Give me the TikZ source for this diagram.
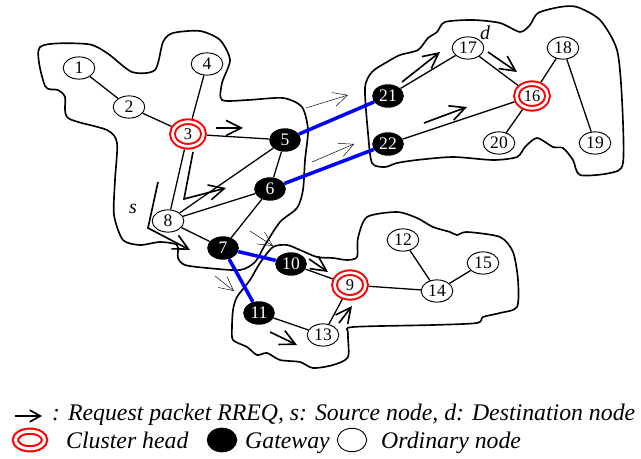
\documentclass[tikz,border=0pt]{standalone}
\usepackage{fontspec}
\setmainfont{Liberation Serif}
\usetikzlibrary{shapes.geometric,arrows.meta}
\tikzstyle{ordinary} = [ellipse, draw=black, line width=0.8pt, fill=white, minimum width=27pt, minimum height=19pt, inner sep=0pt, font=\fontsize{15}{15}\selectfont]
\tikzstyle{gateway} = [ellipse, fill=black, text=white, minimum width=27pt, minimum height=20pt, inner sep=0pt, font=\fontsize{15}{15}\selectfont]
\tikzstyle{head} = [ellipse, draw=red, line width=1.7pt, double=white, double distance=2.3pt, fill=white, minimum width=26.5pt, minimum height=21pt, inner sep=0pt, outer sep=2.85pt, font=\fontsize{14}{14}\selectfont]
\tikzstyle{link} = [line width=1.1pt]
\tikzstyle{bridge} = [blue, line width=3pt]
\tikzstyle{rreq} = [line width=1.4pt, line join=miter, -{Straight Barb[length=13pt,width=13pt,line width=1.4pt]}]
\tikzstyle{hint} = [line width=0.4pt, -{Straight Barb[length=12pt,width=12pt,line width=0.4pt]}]
\tikzstyle{cluster} = [line width=1.4pt, line join=round]
\tikzstyle{legend} = [anchor=base west, inner sep=0pt, font=\fontsize{20.3}{20.3}\selectfont\itshape]

\begin{document}
\begin{tikzpicture}[x=0.03cm, y=-0.03cm]
 \useasboundingbox (0,0) rectangle (641,459);

 % clusters
 \draw[cluster] plot[smooth cycle, tension=0.45] coordinates {(40,47) (87,44) (107,53) (132,72) (155,70) (163,42) (173,33) (200,31) (220,40) (230,60) (222,83) (222,100) (248,100) (283,98) (302,107) (308,130) (305,160) (303,190) (297,208) (280,222) (265,245) (255,262) (240,270) (207,268) (185,265) (178,258) (177,245) (160,242) (140,245) (123,240) (114,215) (115,180) (117,143) (107,130) (68,118) (65,97) (58,90) (45,86)};
 \draw[cluster] plot[smooth cycle, tension=0.45] coordinates {(365,88) (372,72) (387,62) (400,55) (418,50) (428,38) (437,32) (445,22) (473,20) (500,23) (520,32) (530,25) (538,13) (560,7) (577,7) (600,20) (617,50) (622,100) (623,163) (610,173) (580,175) (573,160) (563,148) (553,147) (537,138) (525,147) (517,157) (493,160) (453,157) (417,160) (397,163) (385,167) (372,163) (368,133)};
 \draw[cluster] plot[smooth cycle, tension=0.45] coordinates {(273,247) (287,245) (300,250) (317,257) (333,258) (347,260) (357,257) (358,238) (367,217) (397,212) (417,218) (433,227) (450,232) (457,235) (467,232) (500,237) (513,252) (518,280) (517,307) (500,313) (483,317) (477,323) (433,325) (353,327) (348,333) (348,357) (333,365) (313,368) (300,362) (280,360) (267,353) (257,355) (247,347) (233,340) (232,327) (233,310) (237,297) (250,280) (260,263)};

 % nodes
 \node (n1) [ordinary] at (79,68) {1};
 \node (n2) [ordinary] at (129,107) {2};
 \node (n3) [head] at (188,134) {3};
 \node (n4) [ordinary] at (207,64) {4};
 \node (n5) [gateway] at (285,140) {5};
 \node (n6) [gateway] at (270,189) {6};
 \node (n7) [gateway] at (223,248) {7};
 \node (n8) [ordinary] at (168,221) {8};
 \node (n9) [head] at (350,285) {9};
 \node (n10) [gateway] at (291,264) {10};
 \node (n11) [gateway] at (259,313) {11};
 \node (n12) [ordinary] at (403,240) {12};
 \node (n13) [ordinary] at (323,335) {13};
 \node (n14) [ordinary] at (437,291) {14};
 \node (n15) [ordinary] at (483,263) {15};
 \node (n16) [head] at (532,96) {16};
 \node (n17) [ordinary] at (468,48) {17};
 \node (n18) [ordinary] at (563,48) {18};
 \node (n19) [ordinary] at (595,143) {19};
 \node (n20) [ordinary] at (499,143) {20};
 \node (n21) [gateway] at (388,96) {21};
 \node (n22) [gateway] at (388,144) {22};
 \node (src) at (133,209) {\fontsize{17}{17}\selectfont\itshape s};
 \node (dst) at (485,33) {\fontsize{17}{17}\selectfont\itshape d};

 % links
 \draw[link] (n1) -- (n2);
 \draw[link] (n2) -- (n3);
 \draw[link] (n4) -- (n3);
 \draw[link] (n3) -- (n5);
 \draw[link] (n3) -- (n8);
 \draw[link] (n8) -- (n5);
 \draw[link] (n8) -- (n6);
 \draw[link] (n8) -- (n7);
 \draw[link] (n5) -- (n6);
 \draw[link] (n6) -- (n7);
 \draw[link] (n10) -- (n9);
 \draw[link] (n11) -- (n13);
 \draw[link] (n13) -- (n9);
 \draw[link] (n9) -- (n14);
 \draw[link] (n12) -- (n14);
 \draw[link] (n14) -- (n15);
 \draw[link] (n21) -- (n17);
 \draw[link] (n17) -- (n16);
 \draw[link] (n18) -- (n16);
 \draw[link] (n18) -- (n19);
 \draw[link] (n22) -- (n16);
 \draw[link] (n16) -- (n20);
 \draw[bridge] (n5) -- (n21);
 \draw[bridge] (n6) -- (n22);
 \draw[bridge] (n7) -- (n10);
 \draw[bridge] (n7) -- (n11);

 % RREQ
 \draw[rreq] (216,128) -- (243,128);
 \draw[rreq] (193,152) -- (184,199) -- (226,188);
 \draw[rreq] (158,182) -- (148,228) -- (190,250);
 \draw[rreq] (402,82) -- (440,52);
 \draw[rreq] (424,123) -- (467,107);
 \draw[rreq] (488,52) -- (517,72);
 \draw[rreq] (309,259) -- (328,272);
 \draw[rreq] (270,332) -- (297,345);
 \draw[rreq] (339,323) -- (352,306);
 \draw[hint] (306,108) -- (348,95);
 \draw[hint] (312,162) -- (354,144);
 \draw[hint] (250,231) -- (273,246);
 \draw[hint] (215,276) -- (234,291);

 % legend
 \draw[line width=1.4pt, -{Straight Barb[length=9pt,width=10pt,line width=1.4pt]}] (15,416) -- (42,416);
 \node (l1) [legend] at (52,420) {: Request packet RREQ, s: Source node, d: Destination node};
 \node (k1) [ellipse, draw=red, line width=1.8pt, double=white, double distance=2.6pt, minimum width=25pt, minimum height=15pt, inner sep=0pt] at (30,440) {};
 \node (l2) [legend] at (66,448) {Cluster head};
 \node (k2) [ellipse, fill=black, minimum width=26pt, minimum height=21pt, inner sep=0pt] at (222,440) {};
 \node (l3) [legend] at (245,448) {Gateway};
 \node (k3) [ellipse, draw=black, line width=0.8pt, minimum width=25pt, minimum height=20pt, inner sep=0pt] at (352,440) {};
 \node (l4) [legend] at (381,448) {Ordinary node};
\end{tikzpicture}
\end{document}
